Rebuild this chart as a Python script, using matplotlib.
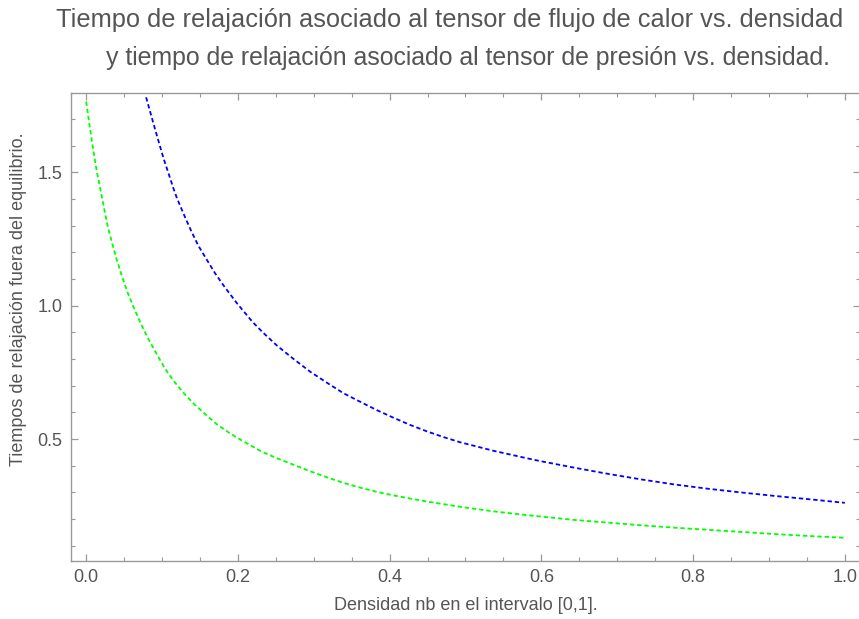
import matplotlib
matplotlib.use("Agg")
import matplotlib.pyplot as plt
from matplotlib.ticker import MultipleLocator

plt.rcParams['font.family'] = ['Liberation Sans', 'DejaVu Sans']

# Tiempo de relajacion del flujo de calor (verde)
nbVerde = [0.0, 0.003, 0.006, 0.0097, 0.014, 0.0185, 0.023, 0.028, 0.034, 0.0405,
           0.047, 0.0545, 0.062, 0.0712, 0.080, 0.0888, 0.099, 0.1077, 0.117, 0.128,
           0.142, 0.157, 0.172, 0.1877, 0.199, 0.225, 0.232, 0.2516, 0.274, 0.2955,
           0.318, 0.339, 0.361, 0.3835, 0.405, 0.427, 0.449, 0.4714, 0.493, 0.537,
           0.581, 0.601, 0.623, 0.643, 0.687, 0.731, 0.775, 0.819, 0.863, 0.907,
           0.951, 1.0]
tauVerde = [1.765, 1.705, 1.646, 1.577, 1.503, 1.440, 1.374, 1.302, 1.236, 1.170,
            1.112, 1.050, 0.998, 0.938, 0.886, 0.840, 0.788, 0.748, 0.712, 0.674,
            0.632, 0.593, 0.556, 0.525, 0.505, 0.463, 0.452, 0.428, 0.403, 0.379,
            0.356, 0.336, 0.318, 0.302, 0.289, 0.277, 0.266, 0.256, 0.246, 0.229,
            0.215, 0.209, 0.203, 0.197, 0.187, 0.177, 0.168, 0.160, 0.152, 0.144,
            0.137, 0.130]

# Tiempo de relajacion del tensor de presion (azul)
nbAzul = [0.079, 0.091, 0.102, 0.115, 0.1196, 0.131, 0.1394, 0.148, 0.159, 0.170,
          0.181, 0.199, 0.219, 0.232, 0.2516, 0.273, 0.2955, 0.318, 0.339, 0.361,
          0.3835, 0.405, 0.427, 0.449, 0.4714, 0.493, 0.537, 0.581, 0.601, 0.623,
          0.643, 0.687, 0.731, 0.775, 0.819, 0.863, 0.907, 0.951, 1.0]
tauAzul = [1.781, 1.659, 1.552, 1.440, 1.403, 1.327, 1.274, 1.224, 1.172, 1.121,
           1.076, 1.008, 0.940, 0.902, 0.850, 0.801, 0.752, 0.710, 0.672, 0.640,
           0.608, 0.580, 0.553, 0.529, 0.507, 0.488, 0.456, 0.428, 0.416, 0.404,
           0.393, 0.370, 0.349, 0.330, 0.314, 0.300, 0.287, 0.275, 0.261]

gris = '#999999'
texto = '#555555'

fig = plt.figure(figsize=(8.59, 6.19), dpi=100)
ax = fig.add_axes([71/859, 1-561/619, 789/859, 468/619])

ax.plot(nbVerde, tauVerde, color=(0, 1, 0), lw=1.3, dashes=(2.4, 1.6))
ax.plot(nbAzul, tauAzul, color=(0, 0, 1), lw=1.3, dashes=(2.4, 1.6))

ax.set_xlim(-0.02, 1.02)
ax.set_ylim(0.043, 1.797)
ax.xaxis.set_major_locator(MultipleLocator(0.2))
ax.xaxis.set_minor_locator(MultipleLocator(0.05))
ax.yaxis.set_major_locator(MultipleLocator(0.5))
ax.yaxis.set_minor_locator(MultipleLocator(0.1))
ax.xaxis.set_major_formatter(plt.FuncFormatter(lambda v, p: "%.1f" % v))
ax.yaxis.set_major_formatter(plt.FuncFormatter(lambda v, p: "%.1f" % v))

for s in ax.spines.values():
    s.set_color(gris)
    s.set_linewidth(1.0)
ax.tick_params(which='both', direction='in', top=True, right=True, color=gris,
               labelcolor=texto, labelsize=13)
ax.tick_params(which='major', length=5, width=0.9, pad=6)
ax.tick_params(which='minor', length=3, width=0.8)

ax.set_xlabel("Densidad nb en el intervalo [0,1].", color=texto, fontsize=13, labelpad=8)
ax.set_ylabel("Tiempos de relajación fuera del equilibrio.", color=texto, fontsize=13)
ax.yaxis.set_label_coords(-0.056, 0.56)

fig.text(450/859, 1-20/619, "Tiempo de relajación asociado al tensor de flujo de calor vs. densidad",
         ha='center', va='center', color=texto, fontsize=18.3)
fig.text(468/859, 1-58/619, "y tiempo de relajación asociado al tensor de presión vs. densidad.",
         ha='center', va='center', color=texto, fontsize=17.9)

fig.savefig("out.png", dpi=100, facecolor='white')
